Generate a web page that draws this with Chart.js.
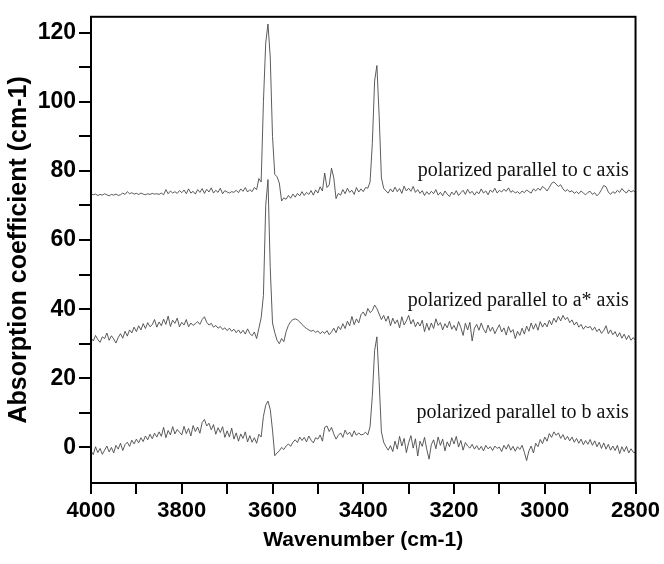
<!DOCTYPE html>
<html>
<head>
<meta charset="utf-8">
<script src="https://cdn.jsdelivr.net/npm/chart.js@4/dist/chart.umd.min.js"></script>
<style>
  html, body { margin: 0; padding: 0; background: #fff; }
  #wrap { width: 664px; height: 564px; }
</style>
</head>
<body>
<div id="wrap"><canvas id="ir_spectra" width="664" height="564"></canvas></div>
<script>
// wavenumber grid (cm-1), 5 cm-1 apart
const wavenumbers = [
  4000,3995,3990,3985,3980,3975,3970,3965,3960,3955,
  3950,3945,3940,3935,3930,3925,3920,3915,3910,3905,
  3900,3895,3890,3885,3880,3875,3870,3865,3860,3855,
  3850,3845,3840,3835,3830,3825,3820,3815,3810,3805,
  3800,3795,3790,3785,3780,3775,3770,3765,3760,3755,
  3750,3745,3740,3735,3730,3725,3720,3715,3710,3705,
  3700,3695,3690,3685,3680,3675,3670,3665,3660,3655,
  3650,3645,3640,3635,3630,3625,3620,3615,3610,3605,
  3600,3595,3590,3585,3580,3575,3570,3565,3560,3555,
  3550,3545,3540,3535,3530,3525,3520,3515,3510,3505,
  3500,3495,3490,3485,3480,3475,3470,3465,3460,3455,
  3450,3445,3440,3435,3430,3425,3420,3415,3410,3405,
  3400,3395,3390,3385,3380,3375,3370,3365,3360,3355,
  3350,3345,3340,3335,3330,3325,3320,3315,3310,3305,
  3300,3295,3290,3285,3280,3275,3270,3265,3260,3255,
  3250,3245,3240,3235,3230,3225,3220,3215,3210,3205,
  3200,3195,3190,3185,3180,3175,3170,3165,3160,3155,
  3150,3145,3140,3135,3130,3125,3120,3115,3110,3105,
  3100,3095,3090,3085,3080,3075,3070,3065,3060,3055,
  3050,3045,3040,3035,3030,3025,3020,3015,3010,3005,
  3000,2995,2990,2985,2980,2975,2970,2965,2960,2955,
  2950,2945,2940,2935,2930,2925,2920,2915,2910,2905,
  2900,2895,2890,2885,2880,2875,2870,2865,2860,2855,
  2850,2845,2840,2835,2830,2825,2820,2815,2810,2805,
  2800
];

// polarized parallel to c axis (offset spectrum)
const cAxis = [
  73.4,73.1,73.3,72.9,73.2,73.0,73.4,73.1,72.8,73.2,
  73.0,73.3,72.9,73.1,73.6,73.2,74.0,73.4,73.7,73.3,
  73.5,73.2,73.6,73.3,73.1,73.4,73.2,73.5,73.3,73.4,
  73.2,73.6,73.1,74.6,73.4,74.2,73.6,74.0,73.5,74.3,
  73.7,74.5,73.4,74.8,73.6,74.1,73.3,74.6,73.8,74.9,
  73.5,74.7,73.9,75.1,73.6,74.4,73.8,75.0,73.4,74.3,
  73.9,73.6,74.0,73.8,74.4,73.7,74.8,74.1,75.2,73.9,
  74.6,74.0,75.2,74.6,77.8,76.8,100,117,122.5,113,
  90,79,78.3,76.5,71.3,72.2,71.8,72.9,72.1,73.3,
  72.4,73.5,72.8,74.0,72.9,73.8,73.2,74.3,73.0,74.5,
  73.6,75.4,74.2,79.4,75.2,76.0,80.8,78.0,72.0,73.5,
  73.0,74.6,73.4,75.0,73.8,74.4,73.2,75.2,73.9,74.8,
  74.0,75.2,75.0,76.8,88,106,110.5,96,78,75.0,
  74.2,73.6,74.8,73.9,75.3,74.0,74.9,73.5,75.6,74.2,
  75.0,74.1,75.5,73.8,74.6,73.5,74.3,72.9,74.0,73.2,
  74.1,73.4,74.6,73.0,73.8,72.8,74.2,73.3,72.6,73.9,
  73.1,74.3,72.9,73.7,74.4,73.2,74.7,73.5,74.1,73.0,
  74.0,73.4,74.8,73.6,74.2,73.1,74.5,73.8,75.0,73.6,
  74.4,73.9,74.7,74.1,75.1,73.8,74.3,73.6,74.0,73.4,
  74.2,73.7,74.5,74.0,73.6,74.8,74.2,75.0,74.4,75.5,
  75.0,74.2,75.2,76.4,76.8,76.2,75.5,76.0,74.8,74.1,
  74.6,73.9,74.3,73.5,74.0,73.4,74.2,73.6,73.1,73.8,
  74.1,73.2,73.7,72.8,73.5,74.6,75.8,75.4,73.9,73.2,
  74.0,73.5,74.4,73.8,74.9,74.1,73.6,74.5,73.9,74.3,
  73.8
];

// polarized parallel to a* axis
const aStarAxis = [
  31.7,30.8,32.4,31.2,30.4,32.0,31.5,33.1,31.0,32.3,
  31.4,30.2,31.8,32.9,31.6,33.6,32.2,34.0,33.1,34.8,
  33.5,35.2,34.0,35.8,34.4,36.1,34.9,35.5,37.0,34.8,
  36.3,35.2,37.1,35.6,38.0,35.0,36.8,35.9,37.4,34.9,
  36.2,35.4,37.0,34.9,36.0,35.3,35.8,36.4,35.6,37.0,
  37.8,36.2,35.4,35.9,34.8,35.3,34.5,35.0,34.1,34.6,
  33.8,34.5,33.6,34.2,33.2,34.0,33.0,33.9,32.8,34.3,
  33.0,32.3,33.4,31.5,34.5,37.5,44,70,77.5,52,
  36,33.2,31.0,30.0,31.5,30.6,33.5,35.3,36.4,37.0,
  37.2,36.9,36.3,35.6,34.9,34.4,34.0,33.6,33.9,33.3,
  33.7,32.9,33.5,33.0,33.8,32.6,33.4,34.5,33.2,35.0,
  34.1,35.8,34.4,36.5,35.2,37.9,35.5,37.2,36.0,38.4,
  39.2,38.0,40.2,39.0,39.6,41.2,40.2,38.6,37.0,38.2,
  36.5,38.0,35.2,37.4,35.8,36.9,34.6,37.8,35.4,36.6,
  38.2,35.7,37.0,34.9,36.3,35.1,36.8,33.5,35.9,33.9,
  36.0,34.4,37.2,35.3,36.1,34.0,35.8,34.6,36.5,34.2,
  35.3,33.8,36.4,34.7,32.4,35.9,34.0,36.2,30.8,34.5,
  35.6,33.9,36.0,34.2,33.1,35.4,33.6,34.8,32.9,34.3,
  35.5,33.4,34.6,32.5,35.0,33.3,34.1,31.5,33.6,32.4,
  34.5,32.8,35.1,33.6,36.0,34.2,35.8,33.9,36.4,34.8,
  36.0,34.9,36.8,35.5,37.4,36.2,37.9,36.6,38.2,37.0,
  37.6,36.1,36.9,35.4,36.3,34.8,35.6,34.2,35.1,34.6,
  35.0,33.9,34.8,33.5,34.3,33.0,33.8,35.2,32.9,34.0,
  32.6,33.5,32.0,33.2,31.6,32.8,31.2,32.4,31.0,31.8,
  31.0
];

// polarized parallel to b axis
const bAxis = [
  -1.0,-2.1,0.2,-1.5,-0.3,-2.0,-0.8,0.4,-1.3,0.0,
  -1.6,0.6,-0.5,1.2,-0.9,0.8,1.5,0.3,2.1,1.0,
  2.4,1.3,2.8,1.7,3.3,2.2,3.8,2.5,4.1,3.0,
  4.5,3.2,5.8,2.8,4.9,3.6,6.0,3.9,5.2,4.4,
  3.6,6.1,4.0,5.5,3.3,6.3,4.6,5.9,4.1,7.2,
  8.1,6.2,7.0,5.1,6.6,3.8,5.7,4.3,6.0,2.9,
  4.8,3.0,5.6,2.4,4.2,1.8,3.9,2.6,4.5,1.6,
  3.4,1.5,2.8,1.2,3.8,3.0,9.0,12.2,13.4,11.0,
  5.0,-2.4,-1.6,-1.0,0.0,-0.6,0.4,1.0,0.3,1.5,
  2.2,1.4,3.0,2.0,2.9,1.6,3.3,2.1,1.3,2.8,
  2.4,3.6,1.8,5.8,6.2,4.6,5.8,3.9,2.4,3.5,
  4.2,2.9,5.0,3.7,4.4,3.1,4.8,3.5,4.2,3.6,
  3.8,4.4,3.6,6.0,15,28,32,19,4.5,1.5,
  0.2,-0.8,0.5,-1.2,1.8,-0.5,3.2,0.4,2.6,-1.5,
  1.4,3.4,-0.2,2.5,-2.5,1.8,0.3,2.9,-0.6,-3.4,
  0.8,2.2,-0.4,3.0,0.6,2.4,-1.0,1.6,0.2,2.8,
  1.0,3.2,0.1,2.0,-0.8,1.4,0.4,-0.2,0.9,-0.5,
  0.5,-0.7,0.3,-1.0,0.6,-0.4,0.2,-0.9,0.4,-0.3,
  0.1,-1.2,0.6,-0.5,0.9,-0.8,0.3,-1.1,0.2,-0.6,
  0.6,-1.4,-3.8,-1.0,0.4,-1.6,1.2,0.2,2.3,1.1,
  3.0,1.8,4.0,2.9,4.5,3.5,4.2,2.6,3.7,2.2,
  3.2,1.9,3.0,1.5,2.6,1.2,2.4,0.8,2.0,0.9,
  2.3,0.6,1.9,0.2,1.5,-0.3,1.3,-0.5,0.9,-0.8,
  0.4,-0.9,0.6,-1.8,0.2,-1.2,0.3,-1.6,-0.4,-1.4,
  -1.5
];

const seriesNames = [
  "polarized parallel to c axis",
  "polarized parallel to a* axis",
  "polarized parallel to b axis",
];

const xTickValues = [4000,3900,3800,3700,3600,3500,3400,3300,3200,3100,3000,2900,2800];
const yTickValues = [0,10,20,30,40,50,60,70,80,90,100,110,120];

// where each curve's caption sits (right end, baseline) in data units
const captionAnchors = [
  { x: 2815, y: 78.5 },
  { x: 2815, y: 40.9 },
  { x: 2815, y: 8.4 },
];

const toPoints = (ys) => wavenumbers.map((x, i) => ({ x: x, y: ys[i] }));

const lineStyle = {
  borderColor: "#4a4a4a",
  borderWidth: 0.9,
  pointRadius: 0,
  tension: 0,
  fill: false,
};

const frameAndCaptions = {
  id: "frameAndCaptions",
  afterDraw(chart) {
    const ctx = chart.ctx;
    const a = chart.chartArea;
    const xs = chart.scales.x;
    const ys = chart.scales.y;
    ctx.save();
    ctx.strokeStyle = "#000";
    ctx.lineWidth = 2;
    ctx.strokeRect(a.left, a.top, a.right - a.left, a.bottom - a.top);
    ctx.fillStyle = "#111";
    ctx.font = '20px "Liberation Serif", "Times New Roman", serif';
    ctx.textAlign = "right";
    ctx.textBaseline = "alphabetic";
    seriesNames.forEach((name, i) => {
      const p = captionAnchors[i];
      ctx.fillText(name, xs.getPixelForValue(p.x), ys.getPixelForValue(p.y));
    });
    ctx.restore();
  },
};

const sansBold = (size) => ({ family: '"Liberation Sans", Arial, sans-serif', size: size, weight: "bold" });

new Chart(document.getElementById("ir_spectra"), {
  type: "line",
  data: {
    datasets: [
      { label: seriesNames[0], data: toPoints(cAxis), ...lineStyle },
      { label: seriesNames[1], data: toPoints(aStarAxis), ...lineStyle },
      { label: seriesNames[2], data: toPoints(bAxis), ...lineStyle },
    ],
  },
  options: {
    responsive: false,
    animation: false,
    layout: { padding: { left: 0, right: 26, top: 13, bottom: 0 } },
    plugins: {
      legend: { display: false },
      tooltip: { enabled: false },
    },
    scales: {
      x: {
        type: "linear",
        reverse: true,
        min: 2800,
        max: 4000,
        afterFit: (scale) => { scale.height = 81; },
        afterBuildTicks: (scale) => {
          scale.ticks = xTickValues.map((v) => ({ value: v }));
        },
        border: { display: true, color: "#000", width: 2 },
        grid: {
          display: true,
          drawOnChartArea: false,
          drawTicks: true,
          tickLength: 11,
          color: "#000",
          lineWidth: 2,
        },
        ticks: {
          color: "#000",
          font: sansBold(22),
          padding: 4,
          maxRotation: 0,
          autoSkip: false,
          callback: (v) => (v % 200 === 0 ? String(v) : ""),
        },
        title: {
          display: true,
          text: "Wavenumber (cm-1)",
          color: "#000",
          font: sansBold(21),
          padding: { top: 0, bottom: 11 },
        },
      },
      y: {
        type: "linear",
        min: -10.3,
        max: 124.6,
        afterFit: (scale) => { scale.width = 91; },
        afterBuildTicks: (scale) => {
          scale.ticks = yTickValues.map((v) => ({ value: v }));
        },
        border: { display: true, color: "#000", width: 2 },
        grid: {
          display: true,
          drawOnChartArea: false,
          drawTicks: true,
          tickLength: 12,
          color: "#000",
          lineWidth: 2,
        },
        ticks: {
          color: "#000",
          font: sansBold(23),
          padding: 3,
          autoSkip: false,
          callback: (v) => (v % 20 === 0 ? String(v) : ""),
        },
        title: {
          display: true,
          text: "Absorption coefficient (cm-1)",
          color: "#000",
          font: sansBold(25),
          padding: { top: 4, bottom: 0 },
        },
      },
    },
  },
  plugins: [frameAndCaptions],
});
</script>
</body>
</html>
